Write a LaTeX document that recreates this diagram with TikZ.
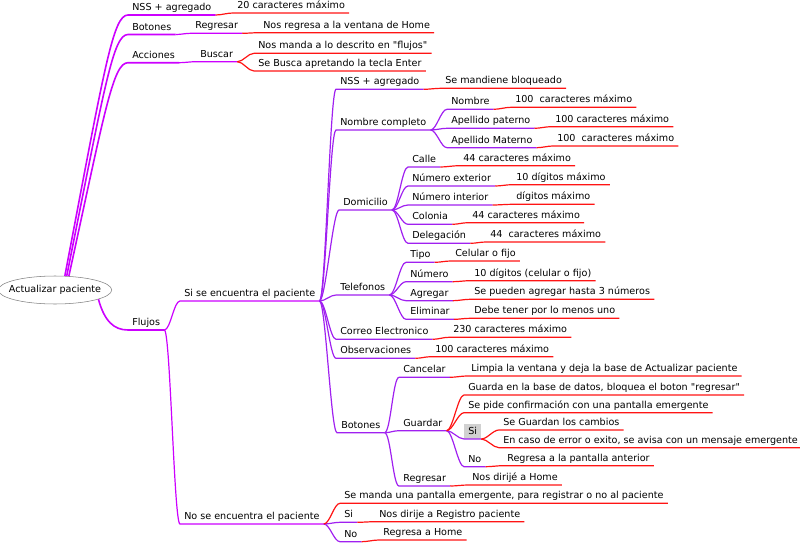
\documentclass[tikz,border=0pt]{standalone}
\usepackage{fontspec}
\setmainfont{DejaVu Sans}
\usetikzlibrary{shapes.geometric,
                positioning}
\definecolor{mapmagenta}{RGB}{204,0,255}
\definecolor{mappurple}{RGB}{160,32,240}
\definecolor{mapred}{RGB}{255,20,20}
\tikzset{topic/.style =
   {anchor=south west,
    inner xsep=3pt,
    inner ysep=0.6pt,
    text height=0.75em,
    text depth=0.25em,
    font=\fontsize{7.2}{8.5}\selectfont}}
\tikzset{central/.style =
   {ellipse,
    draw=gray,
    minimum width=82pt,
    minimum height=21pt,
    inner xsep=-4.5pt,
    inner ysep=0pt,
    font=\fontsize{7.2}{8.5}\selectfont}}
\tikzset{trunk/.style = {draw=mapmagenta, line width=1.2pt}}
\tikzset{branch/.style = {draw=mapmagenta, line width=0.9pt}}
\tikzset{twig/.style = {draw=mappurple, line width=0.9pt}}
\tikzset{leafline/.style = {draw=mapred, line width=0.9pt}}

\begin{document}
\begin{tikzpicture}[x=0.75pt, y=-0.75pt]

    \useasboundingbox (0,0) rectangle (800,543);

    \node [central] (root) at (55,290) {Actualizar paciente};

    % first level
    \node [topic] (nss)     at (128,15)    {NSS + agregado};
    \node [topic] (nssv)    at (233,13)    {20 caracteres máximo};
    \node [topic] (btn)     at (128,34.5)  {Botones};
    \node [topic] (btnreg)  at (191,33.3)  {Regresar};
    \node [topic] (btnregv) at (259,32.7)  {Nos regresa a la ventana de Home};
    \node [topic] (acc)     at (128,62.7)  {Acciones};
    \node [topic] (buscar)  at (196,61.7)  {Buscar};
    \node [topic] (buscv1)  at (254,53.3)  {Nos manda a lo descrito en \textquotedbl flujos\textquotedbl};
    \node [topic] (buscv2)  at (254,71)    {Se Busca apretando la tecla Enter};
    \node [topic] (flujos)  at (128,330)   {Flujos};
    \node [topic] (si)      at (180,301)   {Si se encuentra el paciente};
    \node [topic] (no)      at (180,524)   {No se encuentra el paciente};

    % si se encuentra
    \node [topic] (snss)    at (336,89.3)  {NSS + agregado};
    \node [topic] (snssv)   at (441,88.3)  {Se mandiene bloqueado};
    \node [topic] (nomc)    at (336,130)   {Nombre completo};
    \node [topic] (nom)     at (447,109.3) {Nombre};
    \node [topic] (nomv)    at (511,107.3) {100~~caracteres máximo};
    \node [topic] (pat)     at (447,128.3) {Apellido paterno};
    \node [topic] (patv)    at (551,126.7) {100 caracteres máximo};
    \node [topic] (mat)     at (447,147.7) {Apellido Materno};
    \node [topic] (matv)    at (553,146)   {100~~caracteres máximo};
    \node [topic] (dom)     at (339,210)   {Domicilio};
    \node [topic] (calle)   at (408,167)   {Calle};
    \node [topic] (callev)  at (459,165.7) {44 caracteres máximo};
    \node [topic] (ext)     at (408,186)   {Número exterior};
    \node [topic] (extv)    at (512,184.7) {10 dígitos máximo};
    \node [topic] (int)     at (408,205)   {Número interior};
    \node [topic] (intv)    at (512,204.3) {dígitos máximo};
    \node [topic] (col)     at (408,224.3) {Colonia};
    \node [topic] (colv)    at (468,222.7) {44 caracteres máximo};
    \node [topic] (del)     at (408,243.3) {Delegación};
    \node [topic] (delv)    at (486,242)   {44~~caracteres máximo};
    \node [topic] (tel)     at (336,295)   {Telefonos};
    \node [topic] (tipo)    at (406,262.3) {Tipo};
    \node [topic] (tipov)   at (451,261)   {Celular o fijo};
    \node [topic] (num)     at (406,281.7) {Número};
    \node [topic] (numv)    at (470,280.7) {10 dígitos (celular o fijo)};
    \node [topic] (agr)     at (406,300.7) {Agregar};
    \node [topic] (agrv)    at (470,299.3) {Se pueden agregar hasta 3 números};
    \node [topic] (eli)     at (406,319.3) {Eliminar};
    \node [topic] (eliv)    at (470,318.3) {Debe tener por lo menos uno};
    \node [topic] (correo)  at (336,339.3) {Correo Electronico};
    \node [topic] (correov) at (449,337.3) {230 caracteres máximo};
    \node [topic] (obs)     at (336,358.3) {Observaciones};
    \node [topic] (obsv)    at (431,356.7) {100 caracteres máximo};
    \node [topic] (sbtn)    at (337,432.7) {Botones};
    \node [topic] (can)     at (399,377.3) {Cancelar};
    \node [topic] (canv)    at (467,376)   {Limpia la ventana y deja la base de Actualizar paciente};
    \node [topic] (gua)     at (399,430.7) {Guardar};
    \node [topic] (guav1)   at (464,395)   {Guarda en la base de datos, bloquea el boton \textquotedbl regresar\textquotedbl};
    \node [topic] (guav2)   at (464,412.7) {Se pide confirmación con una pantalla emergente};
    \node [topic,
           fill=black!18] (gsi) at (464,439) {Si};
    \node [topic] (gsiv1)   at (499,430)   {Se Guardan los cambios};
    \node [topic] (gsiv2)   at (499,447.7) {En caso de error o exito, se avisa con un mensaje emergente};
    \node [topic] (gno)     at (464,466.7) {No};
    \node [topic] (gnov)    at (503,465.7) {Regresa a la pantalla anterior};
    \node [topic] (reg)     at (399,486)   {Regresar};
    \node [topic] (regv)    at (468,485)   {Nos dirijé a Home};

    % no se encuentra
    \node [topic] (nov)     at (340,503.3) {Se manda una pantalla emergente, para registrar o no al paciente};
    \node [topic] (nsi)     at (340,522.3) {Si};
    \node [topic] (nsiv)    at (375,521.7) {Nos dirije a Registro paciente};
    \node [topic] (nno)     at (340,541.7) {No};
    \node [topic] (nnov)    at (379,540)   {Regresa a Home};

    \draw [trunk] (root.55) .. controls +(40,-210) and +(-15,0) .. (nss.south west) -- (nss.south east);
    \draw [trunk] (root.50) .. controls +(38,-190) and +(-15,0) .. (btn.south west) -- (btn.south east);
    \draw [trunk] (root.45) .. controls +(36,-165) and +(-15,0) .. (acc.south west) -- (acc.south east);
    \draw [trunk] (root.-12) .. controls +(6,22) and +(-14,0) .. (flujos.south west) -- (flujos.south east);

    \foreach \p/\c in {btn/btnreg, acc/buscar, flujos/si, flujos/no}
        \draw [branch] (\p.south east) .. controls +(6,0) and +(-6,0) .. (\c.south west) -- (\c.south east);

    \foreach \p/\c in {si/snss, si/nomc, si/dom, si/tel, si/correo, si/obs, si/sbtn,
                       nomc/nom, nomc/pat, nomc/mat,
                       dom/calle, dom/ext, dom/int, dom/col, dom/del,
                       tel/tipo, tel/num, tel/agr, tel/eli,
                       sbtn/can, sbtn/gua, sbtn/reg, gua/gsi, gua/gno,
                       no/nsi, no/nno}
        \draw [twig] (\p.south east) .. controls +(6,0) and +(-6,0) .. (\c.south west) -- (\c.south east);

    \foreach \p/\c in {nss/nssv, btnreg/btnregv, buscar/buscv1, buscar/buscv2,
                       snss/snssv, nom/nomv, pat/patv, mat/matv,
                       calle/callev, ext/extv, int/intv, col/colv, del/delv,
                       tipo/tipov, num/numv, agr/agrv, eli/eliv,
                       correo/correov, obs/obsv,
                       can/canv, gua/guav1, gua/guav2, gsi/gsiv1, gsi/gsiv2,
                       gno/gnov, reg/regv,
                       no/nov, nsi/nsiv, nno/nnov}
        \draw [leafline] (\p.south east) .. controls +(6,0) and +(-6,0) .. (\c.south west) -- (\c.south east);

\end{tikzpicture}
\end{document}
